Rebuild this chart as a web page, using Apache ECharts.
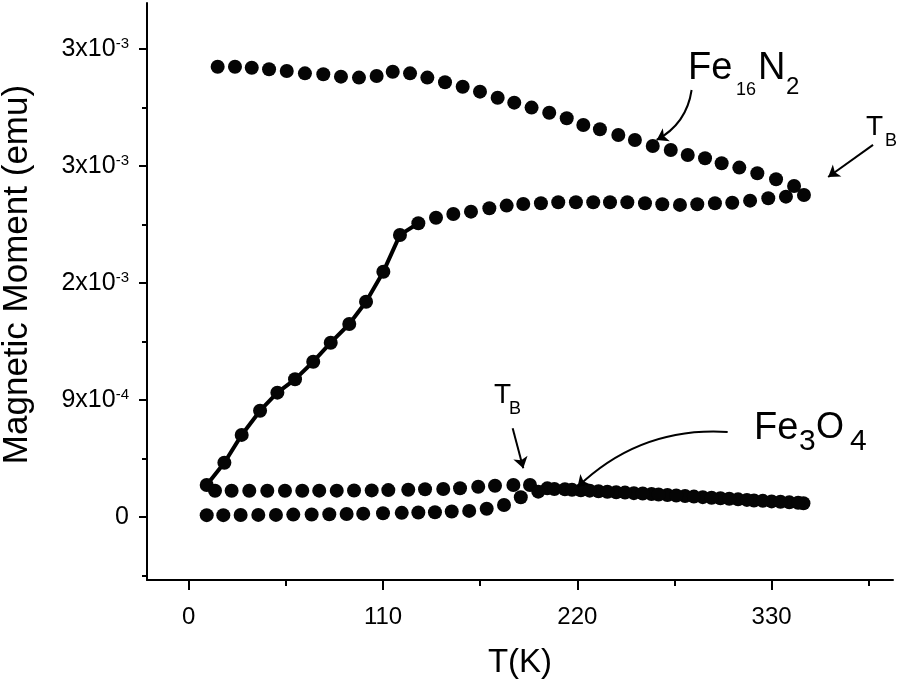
<!DOCTYPE html>
<html>
<head>
<meta charset="utf-8">
<script src="https://cdn.jsdelivr.net/npm/echarts@6/dist/echarts.min.js"></script>
<style>html,body{margin:0;padding:0;background:#fff}#c{width:898px;height:682px}</style>
</head>
<body>
<div id="c"></div>
<script>
// Temperatures (K) and magnetic moment (in 1e-3 emu, on the chart's own scale)
const feN_FC_T = [16.4,26.2,35.7,45.5,55.5,65.8,76.2,86.2,96.4,106.4,115.5,125.3,135.1,145.1,155.1,164.9,174.9,184.3,194.1,204.1,214.0,223.4,232.8,243.2,252.6,262.7,272.9,282.5,292.3,301.7,311.7,321.9,332.5,342.7];
const feN_FC_M = [3.271,3.271,3.264,3.253,3.240,3.223,3.216,3.199,3.192,3.204,3.235,3.223,3.192,3.158,3.126,3.090,3.046,3.010,2.974,2.937,2.897,2.848,2.817,2.775,2.739,2.695,2.666,2.630,2.606,2.570,2.538,2.497,2.453,2.405];

const feN_ZFC_T = [10.2,20.2,30.0,40.4,50.2,60.2,70.5,80.4,90.9,100.4,110.2,119.6,130.0,140.0,149.8,159.8,170.2,180.0,189.4,199.4,209.2,219.2,229.0,238.5,248.3,258.3,268.1,278.1,287.9,297.9,307.7,317.8,328.1,338.1,348.3];
const feN_ZFC_M = [0.232,0.394,0.596,0.772,0.903,1.000,1.128,1.266,1.402,1.564,1.782,2.049,2.134,2.174,2.201,2.218,2.243,2.262,2.274,2.279,2.286,2.286,2.286,2.286,2.286,2.279,2.272,2.267,2.272,2.279,2.283,2.298,2.315,2.327,2.339];
const feN_ZFC_lineCount = 13; // rising part drawn with a connecting line

const feO_FC_T = [14.9,24.3,34.3,44.5,54.5,64.3,73.9,83.8,93.6,103.6,113.0,124.3,133.8,144.1,153.6,163.9,173.4,183.8,193.2,203,213,222,232,242,252,262,271,281,291,301,311,320,330,340,348];
const feO_FC_M = [0.190,0.190,0.190,0.190,0.190,0.190,0.191,0.191,0.192,0.193,0.195,0.198,0.201,0.203,0.209,0.220,0.227,0.232,0.232,0.208,0.201,0.194,0.187,0.180,0.173,0.166,0.160,0.152,0.144,0.136,0.128,0.120,0.113,0.106,0.100];

const feO_ZFC_T = [10.2,19.6,29.4,39.4,49.4,59.2,69.6,79.6,89.4,98.8,110.0,120.6,130.0,139.4,148.9,158.8,168.7,178.5,188.0,197.9,207,217,227,237,247,257,266,276,286,296,306,316,325,335,345];
const feO_ZFC_M = [0.013,0.013,0.014,0.015,0.015,0.017,0.018,0.020,0.022,0.024,0.027,0.030,0.032,0.034,0.040,0.044,0.060,0.087,0.143,0.184,0.203,0.197,0.191,0.183,0.177,0.170,0.163,0.156,0.148,0.140,0.132,0.124,0.117,0.110,0.103];

// Axis ticks
const xTickValues = [0, 110, 220, 330];
const xMinorTicks = [55, 165, 275, 385];
const yTickValues = [0, 0.85, 1.7, 2.55, 3.4];
const yTickBase = ['0', '9x10', '2x10', '3x10', '3x10'];
const yTickExp  = ['', '-4', '-3', '-3', '-3'];
const yMinorTicks = [-0.425, 0.425, 1.275, 2.125, 2.975];

const xMin = -23.6, xMax = 398.7, yMin = -0.458, yMax = 3.734;

function pairs(t, m) { return t.map((v, i) => [v, m[i]]); }

const chart = echarts.init(document.getElementById('c'), null, {renderer: 'canvas'});
const black = '#000';
const dot = {symbol: 'circle', symbolSize: 14, itemStyle: {color: '#050505', opacity: 1}};
const font = 'Liberation Sans, Arial, sans-serif';

function ylabel(v) {
  let best = 0;
  yTickValues.forEach((t, i) => { if (Math.abs(t - v) < Math.abs(yTickValues[best] - v)) best = i; });
  return yTickExp[best] ? '{b|' + yTickBase[best] + '}{s|' + yTickExp[best] + '}' : '{b|' + yTickBase[best] + '}';
}

function arrowSeries(name, coordsList, curveness) {
  return {
    name: name, type: 'lines', coordinateSystem: 'cartesian2d', z: 4, silent: true,
    symbol: ['none', 'arrow'], symbolSize: 11,
    lineStyle: {color: black, width: 2, type: 'solid', opacity: 1, curveness: curveness},
    data: coordsList.map(c => ({coords: c}))
  };
}

const option = {
  animation: false,
  backgroundColor: '#fff',
  grid: {left: 147, right: 5, top: 3, bottom: 102, outerBoundsMode: 'none', containLabel: false},
  xAxis: [{
    type: 'value', min: xMin, max: xMax,
    name: 'T(K)', nameLocation: 'middle', nameGap: 66,
    nameTextStyle: {fontSize: 33, color: black, fontFamily: font},
    axisLine: {show: true, onZero: false, lineStyle: {color: black, width: 2}},
    axisTick: {show: true, length: 10, customValues: xTickValues, lineStyle: {color: black, width: 2}},
    axisLabel: {show: true, customValues: xTickValues, margin: 25, fontSize: 24, color: black, fontFamily: font},
    splitLine: {show: false}
  }, {
    type: 'value', min: xMin, max: xMax, position: 'bottom',
    axisLine: {show: false, onZero: false},
    axisTick: {show: true, length: 6, customValues: xMinorTicks, lineStyle: {color: black, width: 2}},
    axisLabel: {show: false},
    splitLine: {show: false}
  }],
  yAxis: [{
    type: 'value', min: yMin, max: yMax,
    name: 'Magnetic Moment (emu)', nameLocation: 'middle', nameGap: 112, nameRotate: 90,
    nameTextStyle: {fontSize: 35, color: black, fontFamily: font, padding: [0, 0, 0, 34]},
    axisLine: {show: true, onZero: false, lineStyle: {color: black, width: 2}},
    axisTick: {show: true, length: 8, customValues: yTickValues, lineStyle: {color: black, width: 2}},
    axisLabel: {
      show: true, customValues: yTickValues, margin: 18, formatter: ylabel,
      rich: {
        b: {fontSize: 25, color: black, fontFamily: font},
        s: {fontSize: 15, color: black, fontFamily: font, verticalAlign: 'top', padding: [0, 0, 10, 0]}
      }
    },
    splitLine: {show: false}
  }, {
    type: 'value', min: yMin, max: yMax, position: 'left',
    axisLine: {show: false, onZero: false},
    axisTick: {show: true, length: 5, customValues: yMinorTicks, lineStyle: {color: black, width: 2}},
    axisLabel: {show: false},
    splitLine: {show: false}
  }],
  series: [
    {
      name: 'Fe16N2 ZFC line', type: 'line', xAxisIndex: 0, yAxisIndex: 0, z: 1,
      data: pairs(feN_ZFC_T, feN_ZFC_M).slice(0, feN_ZFC_lineCount),
      showSymbol: false, lineStyle: {color: black, width: 4}, silent: true
    },
    Object.assign({name: 'Fe16N2 ZFC', type: 'scatter', z: 3, data: pairs(feN_ZFC_T, feN_ZFC_M)}, dot),
    Object.assign({name: 'Fe16N2 FC', type: 'scatter', z: 3, data: pairs(feN_FC_T, feN_FC_M)}, dot),
    Object.assign({name: 'Fe3O4 FC', type: 'scatter', z: 3, data: pairs(feO_FC_T, feO_FC_M)}, dot),
    Object.assign({name: 'Fe3O4 ZFC', type: 'scatter', z: 3, data: pairs(feO_ZFC_T, feO_ZFC_M)}, dot),
    arrowSeries('TB arrows', [
      [[387.4, 2.703], [362.0, 2.470]],
      [[183.4, 0.644], [189.4, 0.354]]
    ], 0),
    arrowSeries('Fe16N2 arrow', [[[284.7, 3.102], [264.9, 2.739]]], 0.25),
    arrowSeries('Fe3O4 arrow', [[[305.1, 0.618], [220.1, 0.218]]], -0.22)
  ],
  graphic: [
    {type: 'text', style: {text: 'Fe', x: 688, y: 50, font: '38px ' + font, fill: black, textVerticalAlign: 'top'}},
    {type: 'text', style: {text: '16', x: 736, y: 81, font: '18px ' + font, fill: black, textVerticalAlign: 'top'}},
    {type: 'text', style: {text: 'N', x: 758, y: 50, font: '38px ' + font, fill: black, textVerticalAlign: 'top'}},
    {type: 'text', style: {text: '2', x: 786, y: 75, font: '24px ' + font, fill: black, textVerticalAlign: 'top'}},
    {type: 'text', style: {text: 'Fe', x: 754, y: 410, font: '38px ' + font, fill: black, textVerticalAlign: 'top'}},
    {type: 'text', style: {text: '3', x: 799, y: 427, font: '30px ' + font, fill: black, textVerticalAlign: 'top'}},
    {type: 'text', style: {text: 'O', x: 816, y: 410, font: '36px ' + font, fill: black, textVerticalAlign: 'top'}},
    {type: 'text', style: {text: '4', x: 850, y: 427, font: '30px ' + font, fill: black, textVerticalAlign: 'top'}},
    {type: 'text', style: {text: 'T', x: 866, y: 113, font: '28px ' + font, fill: black, textVerticalAlign: 'top'}},
    {type: 'text', style: {text: 'B', x: 885, y: 132, font: '18px ' + font, fill: black, textVerticalAlign: 'top'}},
    {type: 'text', style: {text: 'T', x: 494, y: 381, font: '28px ' + font, fill: black, textVerticalAlign: 'top'}},
    {type: 'text', style: {text: 'B', x: 509, y: 400, font: '18px ' + font, fill: black, textVerticalAlign: 'top'}}
  ]
};
chart.setOption(option);
</script>
</body>
</html>
